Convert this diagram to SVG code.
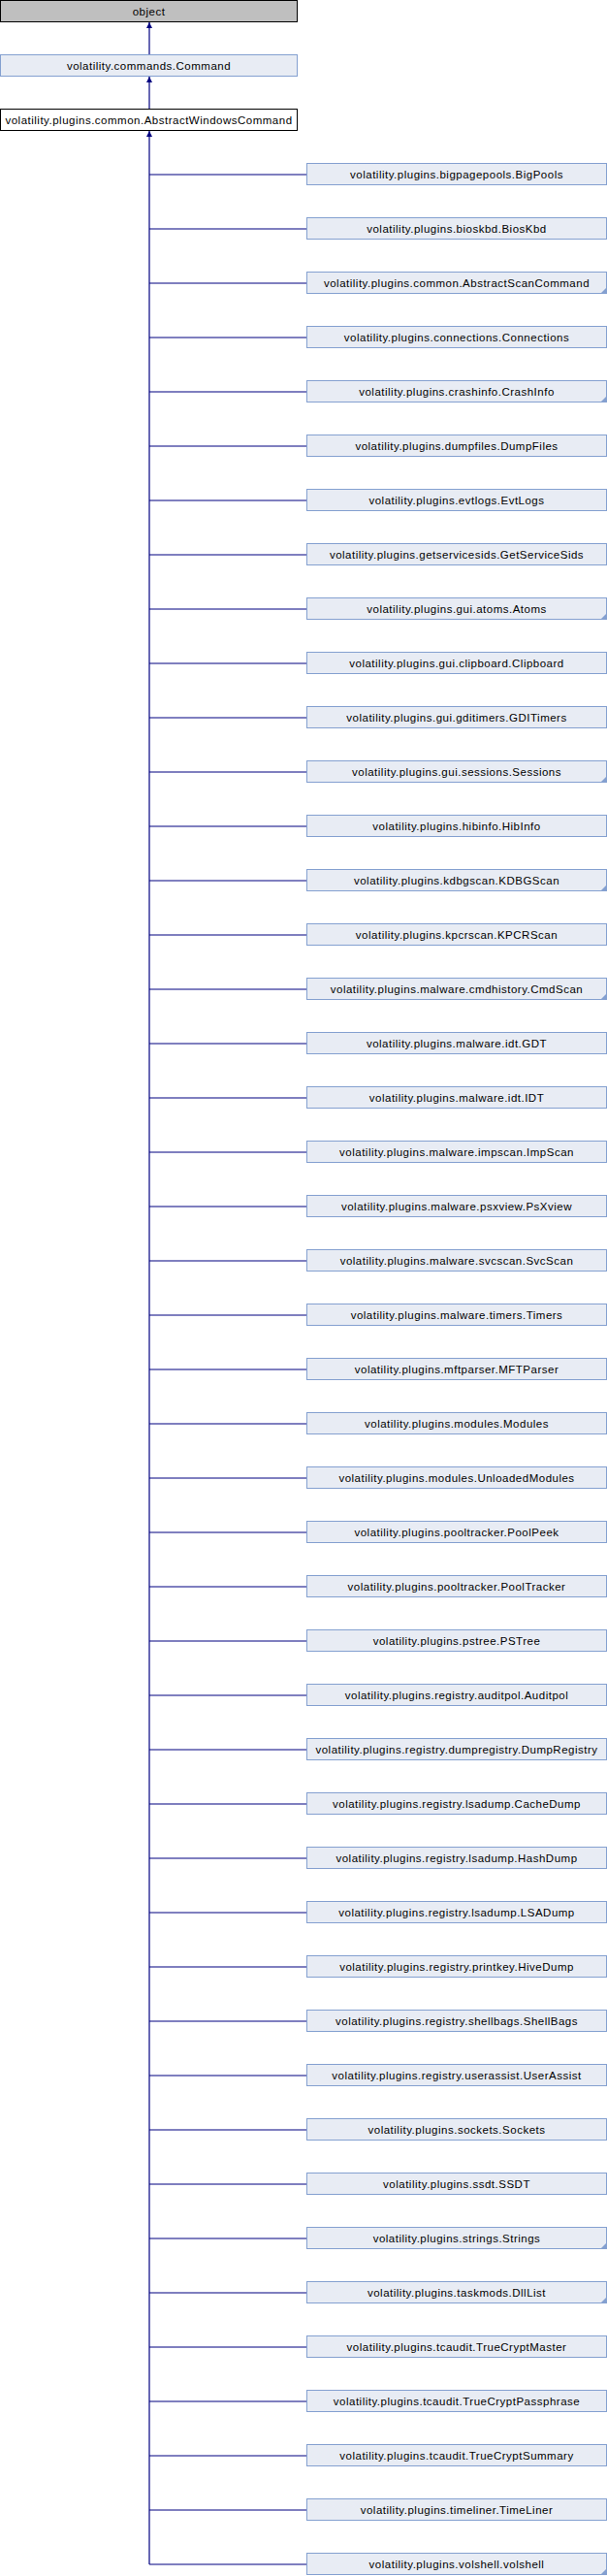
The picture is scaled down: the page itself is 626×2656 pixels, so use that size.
<svg xmlns="http://www.w3.org/2000/svg" width="626" height="2656" viewBox="0 0 626 2656">
<style>
text{font-family:"Liberation Sans",Arial,sans-serif;font-size:11.5px;letter-spacing:0.5px;text-anchor:middle;fill:#000}
.doc rect{fill:#E8ECF4;stroke:#84A0D0;stroke-width:1}
.cur rect{fill:#FFFFFF;stroke:#000000;stroke-width:1}
.ext rect{fill:#BFBFBF;stroke:#000000;stroke-width:1}
.fold{fill:#84A0D0}
#connectors path{fill:none;stroke:#000080;stroke-width:1.2}
</style>
<defs>
<marker id="arr" viewBox="0 0 10 10" refX="10" refY="5" markerWidth="6" markerHeight="6" markerUnits="userSpaceOnUse" orient="auto">
<path d="M0,0 L10,5 L0,10 z" fill="#000080"/>
</marker>
</defs>
<g id="connectors">
<path d="M154 56 V23" marker-end="url(#arr)"/>
<path d="M154 112 V79" marker-end="url(#arr)"/>
<path d="M154 2644 V135" marker-end="url(#arr)"/>
<path d="M154 180H316M154 236H316M154 292H316M154 348H316M154 404H316M154 460H316M154 516H316M154 572H316M154 628H316M154 684H316M154 740H316M154 796H316M154 852H316M154 908H316M154 964H316M154 1020H316M154 1076H316M154 1132H316M154 1188H316M154 1244H316M154 1300H316M154 1356H316M154 1412H316M154 1468H316M154 1524H316M154 1580H316M154 1636H316M154 1692H316M154 1748H316M154 1804H316M154 1860H316M154 1916H316M154 1972H316M154 2028H316M154 2084H316M154 2140H316M154 2196H316M154 2252H316M154 2308H316M154 2364H316M154 2420H316M154 2476H316M154 2532H316M154 2588H316M154 2644H316"/>
</g>
<g id="object" class="ext" transform="translate(0,0)"><rect x="0.5" y="0.5" width="306" height="22"/><text x="153.5" y="16">object</text></g>
<g id="Command" class="doc" transform="translate(0,56)"><rect x="0.5" y="0.5" width="306" height="22"/><text x="153.5" y="16">volatility.commands.Command</text></g>
<g id="AbstractWindowsCommand" class="cur" transform="translate(0,112)"><rect x="0.5" y="0.5" width="306" height="22"/><text x="153.5" y="16">volatility.plugins.common.AbstractWindowsCommand</text></g>
<g id="BigPools" class="doc" transform="translate(316,168)"><rect x="0.5" y="0.5" width="309" height="22"/><text x="155" y="16">volatility.plugins.bigpagepools.BigPools</text></g>
<g id="BiosKbd" class="doc" transform="translate(316,224)"><rect x="0.5" y="0.5" width="309" height="22"/><text x="155" y="16">volatility.plugins.bioskbd.BiosKbd</text></g>
<g id="AbstractScanCommand" class="doc" transform="translate(316,280)"><rect x="0.5" y="0.5" width="309" height="22"/><polygon class="fold" points="310,16 310,23 303,23"/><text x="155" y="16">volatility.plugins.common.AbstractScanCommand</text></g>
<g id="Connections" class="doc" transform="translate(316,336)"><rect x="0.5" y="0.5" width="309" height="22"/><text x="155" y="16">volatility.plugins.connections.Connections</text></g>
<g id="CrashInfo" class="doc" transform="translate(316,392)"><rect x="0.5" y="0.5" width="309" height="22"/><polygon class="fold" points="310,16 310,23 303,23"/><text x="155" y="16">volatility.plugins.crashinfo.CrashInfo</text></g>
<g id="DumpFiles" class="doc" transform="translate(316,448)"><rect x="0.5" y="0.5" width="309" height="22"/><text x="155" y="16">volatility.plugins.dumpfiles.DumpFiles</text></g>
<g id="EvtLogs" class="doc" transform="translate(316,504)"><rect x="0.5" y="0.5" width="309" height="22"/><text x="155" y="16">volatility.plugins.evtlogs.EvtLogs</text></g>
<g id="GetServiceSids" class="doc" transform="translate(316,560)"><rect x="0.5" y="0.5" width="309" height="22"/><text x="155" y="16">volatility.plugins.getservicesids.GetServiceSids</text></g>
<g id="Atoms" class="doc" transform="translate(316,616)"><rect x="0.5" y="0.5" width="309" height="22"/><polygon class="fold" points="310,16 310,23 303,23"/><text x="155" y="16">volatility.plugins.gui.atoms.Atoms</text></g>
<g id="Clipboard" class="doc" transform="translate(316,672)"><rect x="0.5" y="0.5" width="309" height="22"/><text x="155" y="16">volatility.plugins.gui.clipboard.Clipboard</text></g>
<g id="GDITimers" class="doc" transform="translate(316,728)"><rect x="0.5" y="0.5" width="309" height="22"/><text x="155" y="16">volatility.plugins.gui.gditimers.GDITimers</text></g>
<g id="Sessions" class="doc" transform="translate(316,784)"><rect x="0.5" y="0.5" width="309" height="22"/><polygon class="fold" points="310,16 310,23 303,23"/><text x="155" y="16">volatility.plugins.gui.sessions.Sessions</text></g>
<g id="HibInfo" class="doc" transform="translate(316,840)"><rect x="0.5" y="0.5" width="309" height="22"/><text x="155" y="16">volatility.plugins.hibinfo.HibInfo</text></g>
<g id="KDBGScan" class="doc" transform="translate(316,896)"><rect x="0.5" y="0.5" width="309" height="22"/><polygon class="fold" points="310,16 310,23 303,23"/><text x="155" y="16">volatility.plugins.kdbgscan.KDBGScan</text></g>
<g id="KPCRScan" class="doc" transform="translate(316,952)"><rect x="0.5" y="0.5" width="309" height="22"/><text x="155" y="16">volatility.plugins.kpcrscan.KPCRScan</text></g>
<g id="CmdScan" class="doc" transform="translate(316,1008)"><rect x="0.5" y="0.5" width="309" height="22"/><polygon class="fold" points="310,16 310,23 303,23"/><text x="155" y="16">volatility.plugins.malware.cmdhistory.CmdScan</text></g>
<g id="GDT" class="doc" transform="translate(316,1064)"><rect x="0.5" y="0.5" width="309" height="22"/><text x="155" y="16">volatility.plugins.malware.idt.GDT</text></g>
<g id="IDT" class="doc" transform="translate(316,1120)"><rect x="0.5" y="0.5" width="309" height="22"/><text x="155" y="16">volatility.plugins.malware.idt.IDT</text></g>
<g id="ImpScan" class="doc" transform="translate(316,1176)"><rect x="0.5" y="0.5" width="309" height="22"/><text x="155" y="16">volatility.plugins.malware.impscan.ImpScan</text></g>
<g id="PsXview" class="doc" transform="translate(316,1232)"><rect x="0.5" y="0.5" width="309" height="22"/><text x="155" y="16">volatility.plugins.malware.psxview.PsXview</text></g>
<g id="SvcScan" class="doc" transform="translate(316,1288)"><rect x="0.5" y="0.5" width="309" height="22"/><text x="155" y="16">volatility.plugins.malware.svcscan.SvcScan</text></g>
<g id="Timers" class="doc" transform="translate(316,1344)"><rect x="0.5" y="0.5" width="309" height="22"/><text x="155" y="16">volatility.plugins.malware.timers.Timers</text></g>
<g id="MFTParser" class="doc" transform="translate(316,1400)"><rect x="0.5" y="0.5" width="309" height="22"/><text x="155" y="16">volatility.plugins.mftparser.MFTParser</text></g>
<g id="Modules" class="doc" transform="translate(316,1456)"><rect x="0.5" y="0.5" width="309" height="22"/><text x="155" y="16">volatility.plugins.modules.Modules</text></g>
<g id="UnloadedModules" class="doc" transform="translate(316,1512)"><rect x="0.5" y="0.5" width="309" height="22"/><text x="155" y="16">volatility.plugins.modules.UnloadedModules</text></g>
<g id="PoolPeek" class="doc" transform="translate(316,1568)"><rect x="0.5" y="0.5" width="309" height="22"/><text x="155" y="16">volatility.plugins.pooltracker.PoolPeek</text></g>
<g id="PoolTracker" class="doc" transform="translate(316,1624)"><rect x="0.5" y="0.5" width="309" height="22"/><text x="155" y="16">volatility.plugins.pooltracker.PoolTracker</text></g>
<g id="PSTree" class="doc" transform="translate(316,1680)"><rect x="0.5" y="0.5" width="309" height="22"/><text x="155" y="16">volatility.plugins.pstree.PSTree</text></g>
<g id="Auditpol" class="doc" transform="translate(316,1736)"><rect x="0.5" y="0.5" width="309" height="22"/><text x="155" y="16">volatility.plugins.registry.auditpol.Auditpol</text></g>
<g id="DumpRegistry" class="doc" transform="translate(316,1792)"><rect x="0.5" y="0.5" width="309" height="22"/><text x="155" y="16">volatility.plugins.registry.dumpregistry.DumpRegistry</text></g>
<g id="CacheDump" class="doc" transform="translate(316,1848)"><rect x="0.5" y="0.5" width="309" height="22"/><text x="155" y="16">volatility.plugins.registry.lsadump.CacheDump</text></g>
<g id="HashDump" class="doc" transform="translate(316,1904)"><rect x="0.5" y="0.5" width="309" height="22"/><text x="155" y="16">volatility.plugins.registry.lsadump.HashDump</text></g>
<g id="LSADump" class="doc" transform="translate(316,1960)"><rect x="0.5" y="0.5" width="309" height="22"/><text x="155" y="16">volatility.plugins.registry.lsadump.LSADump</text></g>
<g id="HiveDump" class="doc" transform="translate(316,2016)"><rect x="0.5" y="0.5" width="309" height="22"/><text x="155" y="16">volatility.plugins.registry.printkey.HiveDump</text></g>
<g id="ShellBags" class="doc" transform="translate(316,2072)"><rect x="0.5" y="0.5" width="309" height="22"/><text x="155" y="16">volatility.plugins.registry.shellbags.ShellBags</text></g>
<g id="UserAssist" class="doc" transform="translate(316,2128)"><rect x="0.5" y="0.5" width="309" height="22"/><text x="155" y="16">volatility.plugins.registry.userassist.UserAssist</text></g>
<g id="Sockets" class="doc" transform="translate(316,2184)"><rect x="0.5" y="0.5" width="309" height="22"/><text x="155" y="16">volatility.plugins.sockets.Sockets</text></g>
<g id="SSDT" class="doc" transform="translate(316,2240)"><rect x="0.5" y="0.5" width="309" height="22"/><text x="155" y="16">volatility.plugins.ssdt.SSDT</text></g>
<g id="Strings" class="doc" transform="translate(316,2296)"><rect x="0.5" y="0.5" width="309" height="22"/><polygon class="fold" points="310,16 310,23 303,23"/><text x="155" y="16">volatility.plugins.strings.Strings</text></g>
<g id="DllList" class="doc" transform="translate(316,2352)"><rect x="0.5" y="0.5" width="309" height="22"/><polygon class="fold" points="310,16 310,23 303,23"/><text x="155" y="16">volatility.plugins.taskmods.DllList</text></g>
<g id="TrueCryptMaster" class="doc" transform="translate(316,2408)"><rect x="0.5" y="0.5" width="309" height="22"/><text x="155" y="16">volatility.plugins.tcaudit.TrueCryptMaster</text></g>
<g id="TrueCryptPassphrase" class="doc" transform="translate(316,2464)"><rect x="0.5" y="0.5" width="309" height="22"/><text x="155" y="16">volatility.plugins.tcaudit.TrueCryptPassphrase</text></g>
<g id="TrueCryptSummary" class="doc" transform="translate(316,2520)"><rect x="0.5" y="0.5" width="309" height="22"/><text x="155" y="16">volatility.plugins.tcaudit.TrueCryptSummary</text></g>
<g id="TimeLiner" class="doc" transform="translate(316,2576)"><rect x="0.5" y="0.5" width="309" height="22"/><text x="155" y="16">volatility.plugins.timeliner.TimeLiner</text></g>
<g id="volshell" class="doc" transform="translate(316,2632)"><rect x="0.5" y="0.5" width="309" height="22"/><polygon class="fold" points="310,16 310,23 303,23"/><text x="155" y="16">volatility.plugins.volshell.volshell</text></g>
</svg>
